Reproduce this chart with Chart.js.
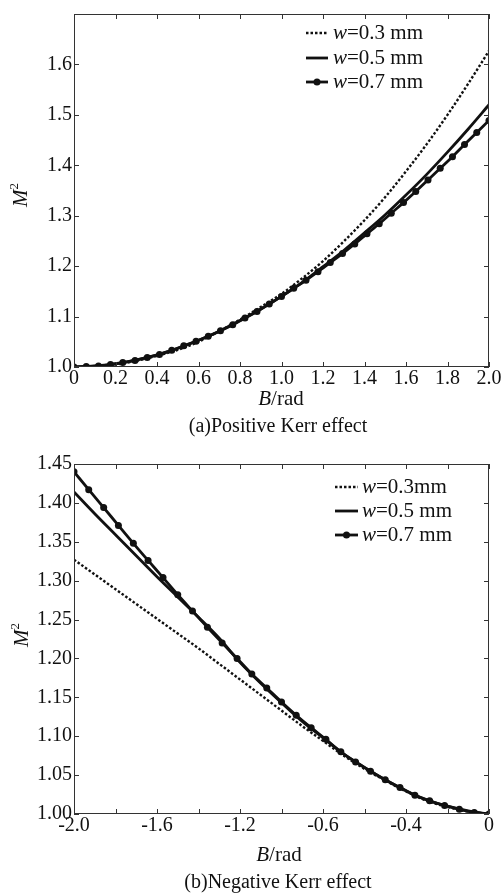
<!DOCTYPE html>
<html>
<head>
<meta charset="utf-8">
<script src="https://cdn.jsdelivr.net/npm/chart.js@4.4.1/dist/chart.umd.min.js"></script>
<style>
  html, body { margin: 0; padding: 0; background: #fff; }
  .wrap { position: absolute; left: 0; width: 503px; }
  #wrapA { top: 0; height: 440px; }
  #wrapB { top: 440px; height: 455px; }
</style>
</head>
<body>
<div class="wrap" id="wrapA"><canvas id="chartA" width="503" height="440"></canvas></div>
<div class="wrap" id="wrapB"><canvas id="chartB" width="503" height="455"></canvas></div>
<script>
// (a) positive Kerr effect
const posX = [0, 0.1, 0.2, 0.3, 0.4, 0.5, 0.6, 0.7, 0.8, 0.9, 1.0, 1.1, 1.2, 1.3, 1.4, 1.5, 1.6, 1.7, 1.8, 1.9, 2.0];
const posW03 = [1.000, 1.001, 1.005, 1.012, 1.022, 1.034, 1.050, 1.071, 1.094, 1.119, 1.145, 1.176, 1.210, 1.249, 1.291, 1.337, 1.388, 1.442, 1.500, 1.562, 1.627];
const posW05 = [1.000, 1.002, 1.006, 1.014, 1.024, 1.037, 1.053, 1.071, 1.092, 1.115, 1.140, 1.168, 1.199, 1.231, 1.266, 1.302, 1.341, 1.382, 1.426, 1.472, 1.520];
const posMarkX = [0, 0.059, 0.118, 0.176, 0.235, 0.294, 0.353, 0.412, 0.471, 0.529, 0.588, 0.647, 0.706, 0.765, 0.824, 0.882, 0.941, 1.000,
  1.059, 1.118, 1.176, 1.235, 1.294, 1.353, 1.412, 1.471, 1.529, 1.588, 1.647, 1.706, 1.765, 1.824, 1.882, 1.941, 2.000];
const posW07 = [1.000, 1.001, 1.002, 1.005, 1.009, 1.013, 1.019, 1.025, 1.033, 1.042, 1.051, 1.061, 1.072, 1.084, 1.097, 1.110, 1.125, 1.140,
  1.156, 1.172, 1.189, 1.207, 1.225, 1.244, 1.264, 1.284, 1.305, 1.326, 1.348, 1.371, 1.394, 1.417, 1.441, 1.465, 1.489];
const posXTicks = ["0", "0.2", "0.4", "0.6", "0.8", "1.0", "1.2", "1.4", "1.6", "1.8", "2.0"];
const posYTicks = ["1.0", "1.1", "1.2", "1.3", "1.4", "1.5", "1.6", ""];

// (b) negative Kerr effect
const negX = [-2.0, -1.9, -1.8, -1.7, -1.6, -1.5, -1.4, -1.3, -1.2, -1.1, -1.0, -0.9, -0.8, -0.7, -0.6, -0.5, -0.4, -0.3, -0.2, -0.1, 0];
const negW03 = [1.327, 1.308, 1.289, 1.270, 1.251, 1.232, 1.213, 1.193, 1.173, 1.153, 1.133, 1.113, 1.094, 1.075, 1.058, 1.043, 1.029, 1.017, 1.009, 1.003, 1.000];
const negW05 = [1.414, 1.386, 1.359, 1.332, 1.305, 1.279, 1.253, 1.226, 1.195, 1.168, 1.143, 1.119, 1.098, 1.077, 1.060, 1.044, 1.030, 1.018, 1.010, 1.004, 1.000];
const negMarkX = [-2.000, -1.929, -1.857, -1.786, -1.714, -1.643, -1.571, -1.500, -1.429, -1.357, -1.286, -1.214, -1.143, -1.071, -1.000,
  -0.929, -0.857, -0.786, -0.714, -0.643, -0.571, -0.500, -0.429, -0.357, -0.286, -0.214, -0.143, -0.071, 0.000];
const negW07 = [1.440, 1.417, 1.394, 1.371, 1.348, 1.326, 1.304, 1.282, 1.261, 1.240, 1.220, 1.200, 1.180, 1.162, 1.144,
  1.127, 1.111, 1.096, 1.080, 1.067, 1.055, 1.044, 1.034, 1.024, 1.017, 1.011, 1.006, 1.002, 1.000];
const negXTicks = ["-2.0", "", "-1.6", "", "-1.2", "", "-0.6", "", "-0.4", "", "0"];
const negYTicks = ["1.00", "1.05", "1.10", "1.15", "1.20", "1.25", "1.30", "1.35", "1.40", "1.45"];

const serif = '"Liberation Serif", "DejaVu Serif", serif';
const ink = "#111";

function pts(xs, ys) {
  return xs.map((x, i) => ({ x, y: ys[i] }));
}

function drawRich(ctx, parts, x, y, size, align) {
  const fontOf = (p) => (p.italic ? "italic " : "") + (p.sup ? size * 0.62 : size) + "px " + serif;
  let total = 0;
  parts.forEach((p) => {
    ctx.font = fontOf(p);
    p.w = ctx.measureText(p.text).width;
    total += p.w;
  });
  let cx = align === "center" ? x - total / 2 : x;
  ctx.textBaseline = "middle";
  ctx.textAlign = "left";
  parts.forEach((p) => {
    ctx.font = fontOf(p);
    ctx.fillText(p.text, cx, p.sup ? y - size * 0.3 : y);
    cx += p.w;
  });
}

// frame, inward ticks on four sides, legend and titles
const decor = {
  id: "decor",
  afterDraw(chart, args, o) {
    const { ctx, chartArea: a, scales } = chart;
    const x = scales.x;
    const y = scales.y;
    ctx.save();
    ctx.strokeStyle = "#333";
    ctx.lineWidth = 1;
    ctx.strokeRect(a.left + 0.5, a.top + 0.5, a.right - a.left - 1, a.bottom - a.top - 1);
    ctx.beginPath();
    x.ticks.forEach((t) => {
      const px = Math.round(x.getPixelForValue(t.value)) + 0.5;
      ctx.moveTo(px, a.bottom);
      ctx.lineTo(px, a.bottom - 5);
      ctx.moveTo(px, a.top);
      ctx.lineTo(px, a.top + 5);
    });
    y.ticks.forEach((t) => {
      const py = Math.round(y.getPixelForValue(t.value)) + 0.5;
      ctx.moveTo(a.left, py);
      ctx.lineTo(a.left + 5, py);
      ctx.moveTo(a.right, py);
      ctx.lineTo(a.right - 5, py);
    });
    ctx.stroke();

    // legend
    ctx.fillStyle = ink;
    chart.data.datasets.forEach((ds, i) => {
      const ly = o.legendY[i];
      ctx.beginPath();
      ctx.strokeStyle = ink;
      ctx.lineWidth = ds.borderWidth;
      ctx.setLineDash(ds.borderDash || []);
      ctx.moveTo(o.legendX0, ly);
      ctx.lineTo(o.legendX1, ly);
      ctx.stroke();
      ctx.setLineDash([]);
      if (ds.pointRadius > 0) {
        ctx.beginPath();
        ctx.arc((o.legendX0 + o.legendX1) / 2, ly, ds.pointRadius, 0, Math.PI * 2);
        ctx.fill();
      }
      drawRich(ctx, [{ text: "w", italic: true }, { text: o.legendText[i] }], o.legendTextX, ly, 21, "left");
    });

    // axis titles and caption
    drawRich(ctx, [{ text: "B", italic: true }, { text: "/rad" }], o.xTitle[0], o.xTitle[1], 21, "center");
    drawRich(ctx, [{ text: o.caption }], o.captionPos[0], o.captionPos[1], 20, "center");
    ctx.translate(o.yTitle[0], o.yTitle[1]);
    ctx.rotate(-Math.PI / 2);
    drawRich(ctx, [{ text: "M", italic: true }, { text: "2", sup: true }], 0, 0, 21, "center");
    ctx.restore();
  },
};

function makeChart(canvasId, d) {
  return new Chart(document.getElementById(canvasId), {
    type: "line",
    data: {
      datasets: [
        {
          label: "w=0.3 mm",
          data: pts(d.x, d.w03),
          borderColor: ink,
          borderWidth: 2.4,
          borderDash: [2.5, 2],
          pointRadius: 0,
          cubicInterpolationMode: "monotone",
        },
        {
          label: "w=0.5 mm",
          data: pts(d.x, d.w05),
          borderColor: ink,
          borderWidth: 2.8,
          pointRadius: 0,
          cubicInterpolationMode: "monotone",
        },
        {
          label: "w=0.7 mm",
          data: pts(d.markX, d.w07),
          borderColor: ink,
          borderWidth: 2.8,
          pointRadius: 3.5,
          pointBorderWidth: 0,
          pointBackgroundColor: ink,
          cubicInterpolationMode: "monotone",
        },
      ],
    },
    options: {
      responsive: false,
      animation: false,
      events: [],
      layout: {
        autoPadding: false,
        padding: { left: 0, right: 14, top: d.padTop, bottom: 0 },
      },
      plugins: {
        legend: { display: false },
        tooltip: { enabled: false },
        decor: d.decor,
      },
      scales: {
        x: {
          type: "linear",
          min: d.xMin,
          max: d.xMax,
          afterFit: (s) => { s.height = d.xAxisHeight; },
          grid: { display: false, drawTicks: false, tickLength: 0 },
          border: { display: false },
          ticks: {
            stepSize: 0.2,
            autoSkip: false,
            maxRotation: 0,
            padding: 0,
            color: ink,
            font: { family: serif, size: 20 },
            callback: (v, i) => d.xTicks[i],
          },
        },
        y: {
          min: d.yMin,
          max: d.yMax,
          afterFit: (s) => { s.width = 74; },
          grid: { display: false, drawTicks: false, tickLength: 0 },
          border: { display: false },
          ticks: {
            stepSize: d.yStep,
            autoSkip: false,
            padding: 2,
            color: ink,
            font: { family: serif, size: 20 },
            callback: (v, i) => d.yTicks[i],
          },
        },
      },
    },
    plugins: [decor],
  });
}

makeChart("chartA", {
  x: posX, w03: posW03, w05: posW05, markX: posMarkX, w07: posW07,
  xMin: 0, xMax: 2, yMin: 1.0, yMax: 1.7, yStep: 0.1,
  xTicks: posXTicks, yTicks: posYTicks,
  padTop: 14, xAxisHeight: 73,
  decor: {
    legendX0: 306, legendX1: 328, legendTextX: 333, legendY: [33, 58, 82],
    legendText: ["=0.3 mm", "=0.5 mm", "=0.7 mm"],
    xTitle: [281, 399], captionPos: [278, 427], yTitle: [21, 195],
    caption: "(a)Positive Kerr effect",
  },
});

makeChart("chartB", {
  x: negX, w03: negW03, w05: negW05, markX: negMarkX, w07: negW07,
  xMin: -2, xMax: 0, yMin: 1.0, yMax: 1.45, yStep: 0.05,
  xTicks: negXTicks, yTicks: negYTicks,
  padTop: 24, xAxisHeight: 81,
  decor: {
    legendX0: 335, legendX1: 358, legendTextX: 362, legendY: [47, 71, 95],
    legendText: ["=0.3mm", "=0.5 mm", "=0.7 mm"],
    xTitle: [279, 415], captionPos: [278, 443], yTitle: [22, 195],
    caption: "(b)Negative Kerr effect",
  },
});
</script>
</body>
</html>
